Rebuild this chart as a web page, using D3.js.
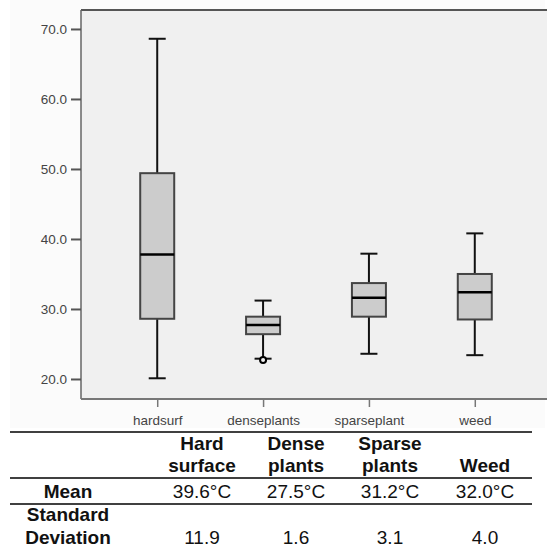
<!DOCTYPE html>
<html>
<head>
<meta charset="utf-8">
<script src="https://cdn.jsdelivr.net/npm/d3@7"></script>
<style>
  body { margin: 0; background: #fff; }
  text { font-family: "Liberation Sans", Arial, sans-serif; }
</style>
</head>
<body>
<svg id="chart"></svg>
<script>
// Box plot values
const categories = ["hardsurf", "denseplants", "sparseplant", "weed"];
const whiskerLow = [20.1, 22.9, 23.6, 23.4];
const q1 = [28.6, 26.4, 28.9, 28.5];
const median = [37.8, 27.7, 31.6, 32.4];
const q3 = [49.4, 28.9, 33.7, 35.0];
const whiskerHigh = [68.6, 31.2, 37.9, 40.8];
const outliers = [[], [22.7], [], []];
const yTicks = [20, 30, 40, 50, 60, 70];

// Summary table under the chart
const tableHeaders = [["Hard", "surface"], ["Dense", "plants"], ["Sparse", "plants"], ["Weed"]];
const rowLabels = [["Mean"], ["Standard", "Deviation"]];
const meanValues = ["39.6°C", "27.5°C", "31.2°C", "32.0°C"];
const sdValues = ["11.9", "1.6", "3.1", "4.0"];

const width = 547;
const height = 548;

const svg = d3.select("#chart")
    .attr("width", width)
    .attr("height", height);

// plot area
const plot = { left: 81, top: 10, right: 551, bottom: 399 };

const x = d3.scalePoint()
    .domain(categories)
    .range([plot.left, plot.right])
    .padding(0.72);

const y = d3.scaleLinear()
    .domain([17.14, 72.71])
    .range([plot.bottom, plot.top]);

// faint outer panel
svg.append("rect")
    .attr("x", 10).attr("y", 0)
    .attr("width", 535).attr("height", 428)
    .attr("fill", "#fbfbfb");

svg.append("rect")
    .attr("x", plot.left).attr("y", plot.top)
    .attr("width", plot.right - plot.left)
    .attr("height", plot.bottom - plot.top)
    .attr("fill", "#f0f0f0");

// frame lines
svg.append("line")
    .attr("x1", plot.left).attr("x2", width)
    .attr("y1", plot.top).attr("y2", plot.top)
    .attr("stroke", "#555").attr("stroke-width", 2);
svg.append("line")
    .attr("x1", plot.left).attr("x2", plot.left)
    .attr("y1", plot.top).attr("y2", plot.bottom)
    .attr("stroke", "#666").attr("stroke-width", 1.5);

// y axis
const yAxis = svg.append("g")
    .attr("transform", `translate(${plot.left},0)`)
    .call(d3.axisLeft(y).tickValues(yTicks).tickFormat(d3.format(".1f")).tickSize(10).tickPadding(4));
yAxis.select(".domain").remove();
yAxis.selectAll(".tick line").attr("stroke", "#555").attr("stroke-width", 2);
yAxis.selectAll(".tick text")
    .attr("fill", "#444")
    .style("font-size", "13.5px")
    .style("font-family", "'Liberation Sans', Arial, sans-serif");

// x axis
const xAxis = svg.append("g")
    .attr("transform", `translate(0,${plot.bottom})`)
    .call(d3.axisBottom(x).tickSize(8).tickPadding(8));
xAxis.select(".domain").remove();
xAxis.selectAll(".tick line").attr("stroke", "#777").attr("stroke-width", 1.5);
xAxis.selectAll(".tick text")
    .attr("fill", "#444")
    .style("font-size", "13.5px")
    .style("font-family", "'Liberation Sans', Arial, sans-serif");
svg.append("line")
    .attr("x1", plot.left).attr("x2", width)
    .attr("y1", plot.bottom).attr("y2", plot.bottom)
    .attr("stroke", "#777").attr("stroke-width", 2);

// boxes
const boxW = 34;
const capW = 17;
const boxes = categories.map((c, i) => ({
    cat: c, lo: whiskerLow[i], q1: q1[i], med: median[i], q3: q3[i], hi: whiskerHigh[i], out: outliers[i]
}));

const g = svg.selectAll(".box")
    .data(boxes)
    .enter().append("g")
    .attr("class", "box")
    .attr("transform", d => `translate(${x(d.cat)},0)`);

// whiskers
g.append("line")
    .attr("x1", 0).attr("x2", 0)
    .attr("y1", d => y(d.hi)).attr("y2", d => y(d.q3))
    .attr("stroke", "#111").attr("stroke-width", 2);
g.append("line")
    .attr("x1", 0).attr("x2", 0)
    .attr("y1", d => y(d.q1)).attr("y2", d => y(d.lo))
    .attr("stroke", "#111").attr("stroke-width", 2);
g.append("line")
    .attr("x1", -capW / 2).attr("x2", capW / 2)
    .attr("y1", d => y(d.hi)).attr("y2", d => y(d.hi))
    .attr("stroke", "#111").attr("stroke-width", 2);
g.append("line")
    .attr("x1", -capW / 2).attr("x2", capW / 2)
    .attr("y1", d => y(d.lo)).attr("y2", d => y(d.lo))
    .attr("stroke", "#111").attr("stroke-width", 2);

g.append("rect")
    .attr("x", -boxW / 2)
    .attr("y", d => y(d.q3))
    .attr("width", boxW)
    .attr("height", d => y(d.q1) - y(d.q3))
    .attr("fill", "#cccccc")
    .attr("stroke", "#444")
    .attr("stroke-width", 2);

g.append("line")
    .attr("x1", -boxW / 2).attr("x2", boxW / 2)
    .attr("y1", d => y(d.med)).attr("y2", d => y(d.med))
    .attr("stroke", "#000").attr("stroke-width", 2.5);

g.selectAll(".outlier")
    .data(d => d.out)
    .enter().append("circle")
    .attr("class", "outlier")
    .attr("cx", 0)
    .attr("cy", d => y(d))
    .attr("r", 3)
    .attr("fill", "#f0f0f0")
    .attr("stroke", "#000")
    .attr("stroke-width", 2);

// table
const colX = [202, 296, 390, 485];
const labelX = 68;
const fs = "19px";

[432, 478, 504].forEach(ly => {
    svg.append("line")
        .attr("x1", 10).attr("x2", 532)
        .attr("y1", ly).attr("y2", ly)
        .attr("stroke", "#000").attr("stroke-width", 1.5);
});

// headers are bottom-aligned
tableHeaders.forEach((lines, i) => {
    const t = svg.append("text")
        .attr("text-anchor", "middle")
        .attr("font-weight", "bold")
        .style("font-size", fs)
        .attr("fill", "#111");
    lines.forEach((s, j) => {
        t.append("tspan")
            .attr("x", colX[i])
            .attr("y", 472 - (lines.length - 1 - j) * 22)
            .text(s);
    });
});

const rowBase = [498, 544];
rowLabels.forEach((lines, r) => {
    const t = svg.append("text")
        .attr("text-anchor", "middle")
        .attr("font-weight", "bold")
        .style("font-size", fs)
        .attr("fill", "#111");
    lines.forEach((s, j) => {
        t.append("tspan")
            .attr("x", labelX)
            .attr("y", rowBase[r] - (lines.length - 1 - j) * 23)
            .text(s);
    });
});

[meanValues, sdValues].forEach((vals, r) => {
    svg.selectAll(null)
        .data(vals)
        .enter().append("text")
        .attr("x", (d, i) => colX[i])
        .attr("y", rowBase[r])
        .attr("text-anchor", "middle")
        .style("font-size", fs)
        .attr("fill", "#111")
        .text(d => d);
});
</script>
</body>
</html>
